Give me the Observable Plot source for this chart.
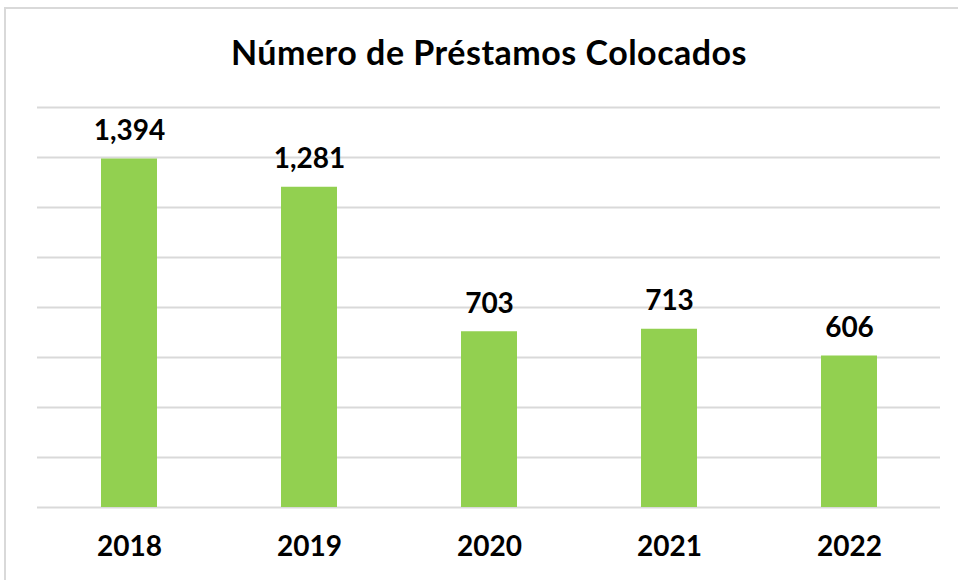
<!DOCTYPE html>
<html>
<head>
<meta charset="utf-8">
<script src="https://cdn.jsdelivr.net/npm/d3@7"></script>
<script src="https://cdn.jsdelivr.net/npm/@observablehq/plot@0.6"></script>
<style>
  html, body { margin: 0; padding: 0; background: #fff; }
  #wrap { position: relative; width: 958px; height: 580px; overflow: hidden; }
  #frame { position: absolute; left: 4px; top: 7px; width: 1000px; height: 1000px;
           border-top: 2px solid #d9d9d9; border-left: 2px solid #d9d9d9; }
  #title { position: absolute; left: 0; top: 0; width: 978px; height: 90px; line-height: 104px;
           text-align: center; font-family: Lato, sans-serif; font-weight: 700; font-size: 34px;
           letter-spacing: 0.5px; color: #000; }
  #chart { position: absolute; left: 0; top: 90px; }
</style>
</head>
<body>
<div id="wrap">
  <div id="frame"></div>
  <div id="title">Número de Préstamos Colocados</div>
  <div id="chart"></div>
</div>
<script>
const years = ["2018", "2019", "2020", "2021", "2022"];
const values = [1394, 1281, 703, 713, 606];
const gridTicks = [0, 200, 400, 600, 800, 1000, 1200, 1400, 1600];

const data = years.map((y, i) => ({year: y, value: values[i]}));

const plot = Plot.plot({
  width: 958,
  height: 490,
  marginLeft: 37,
  marginRight: 18,
  marginTop: 17,
  marginBottom: 73,
  style: {fontFamily: "Lato, sans-serif", background: "transparent"},
  x: {domain: years, paddingInner: 0.69, paddingOuter: 0.345, label: null},
  y: {domain: [0, 1600], label: null, axis: null},
  marks: [
    Plot.ruleY(gridTicks, {stroke: "#d9d9d9", strokeWidth: 2}),
    Plot.barY(data, {x: "year", y: "value", fill: "#92d050"}),
    Plot.text(data, {x: "year", y: "value", text: d => d3.format(",")(d.value),
      dy: -28, fontSize: 28, fontWeight: 700, fill: "#000", letterSpacing: "0.5px"}),
    Plot.axisX({tickSize: 0, tickPadding: 29, fontSize: 28, fontWeight: 700, color: "#000", label: null, letterSpacing: "1px"})
  ]
});
document.getElementById("chart").appendChild(plot);
</script>
</body>
</html>
